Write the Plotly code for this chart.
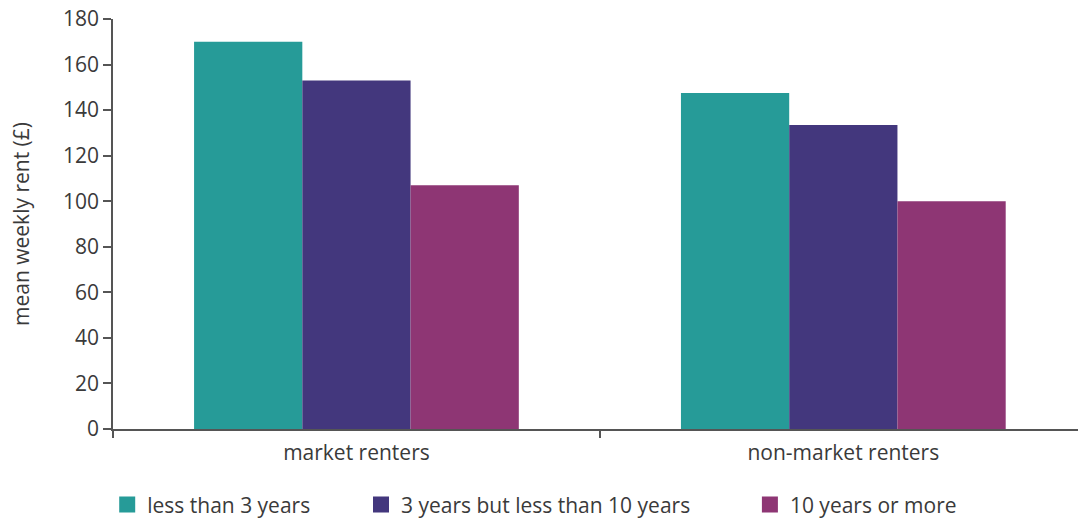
import plotly.graph_objects as go

# Mean weekly rent by length of tenancy
categories = ["market renters", "non-market renters"]
series_names = ["less than 3 years", "3 years but less than 10 years", "10 years or more"]
less_than_3 = [170, 147.5]
three_to_10 = [153, 133.5]
ten_or_more = [107, 100]
y_ticks = [0, 20, 40, 60, 80, 100, 120, 140, 160, 180]

colors = ["#269B98", "#43377D", "#8E3674"]
series_values = [less_than_3, three_to_10, ten_or_more]

font_family = "Open Sans, Noto Sans, sans-serif"
text_color = "#3a3a3a"
axis_color = "#555555"

fig = go.Figure()
for name, vals, col in zip(series_names, series_values, colors):
    fig.add_trace(go.Bar(
        x=categories, y=vals, name=name, marker=dict(color=col, line=dict(width=0)),
        showlegend=False,
    ))

# one legend per series so each entry can sit at its own position
legend_ids = ["legend", "legend2", "legend3"]
legend_x = [-0.006, 0.257, 0.660]
for name, col, lid in zip(series_names, colors, legend_ids):
    fig.add_trace(go.Scatter(
        x=[None], y=[None], mode="markers", name=name,
        marker=dict(symbol="square", size=20, color=col),
        showlegend=True, legend=lid,
    ))

legend_style = dict(
    orientation="h", xanchor="left", y=-0.185, yanchor="middle",
    font=dict(size=21, color=text_color), itemsizing="trace",
    bgcolor="rgba(0,0,0,0)",
)

fig.update_layout(
    width=1078, height=519,
    margin=dict(l=113, r=0, t=19, b=90, autoexpand=False),
    paper_bgcolor="white", plot_bgcolor="white",
    barmode="group", bargap=0.333, bargroupgap=0,
    font=dict(family=font_family, color=text_color, size=20),
    legend=dict(x=legend_x[0], **legend_style),
    legend2=dict(x=legend_x[1], **legend_style),
    legend3=dict(x=legend_x[2], **legend_style),
)

fig.update_xaxes(
    range=[-0.5, 1.482], showline=True, linecolor=axis_color, linewidth=1.5,
    ticks="outside", tickson="boundaries", ticklen=7, tickcolor=axis_color, tickwidth=1.5,
    tickfont=dict(size=21, color=text_color), ticklabelstandoff=4,
    showgrid=False, zeroline=False,
)
fig.update_yaxes(
    range=[0, 180], tickvals=y_ticks, showline=True, linecolor=axis_color, linewidth=1.5,
    ticks="outside", ticklen=8, tickcolor=axis_color, tickwidth=1.5,
    tickfont=dict(size=21, color=text_color), showgrid=False, zeroline=False,
    title=dict(text="mean weekly rent (£)", font=dict(size=21, color=text_color), standoff=28),
)

fig.write_html("out.html")
